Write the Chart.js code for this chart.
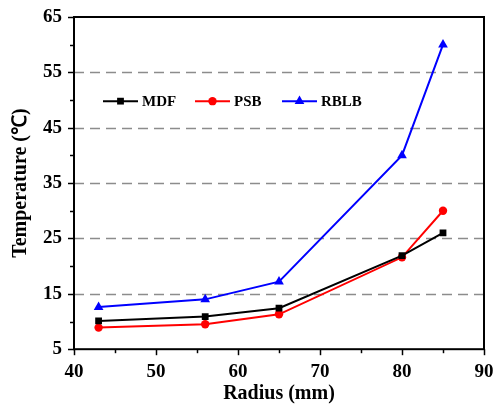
<!DOCTYPE html>
<html>
<head>
<meta charset="utf-8">
<script src="https://cdn.jsdelivr.net/npm/chart.js@4/dist/chart.umd.min.js"></script>
<style>
html,body{margin:0;padding:0;background:#fff;}
#wrap{width:493px;height:404px;position:relative;}
</style>
</head>
<body>
<div id="wrap"><canvas id="c" width="493" height="404"></canvas></div>
<script>
const radius = [43, 56, 65, 80, 85];
const mdf = [10.1, 10.9, 12.4, 21.9, 26.0];
const psb = [8.9, 9.5, 11.3, 21.6, 30.0];
const rblb = [12.6, 14.0, 17.2, 40.0, 60.0];
const seriesNames = ['MDF', 'PSB', 'RBLB'];
const xTicks = [40, 50, 60, 70, 80, 90];
const yTicks = [5, 15, 25, 35, 45, 55, 65];
const gridValues = [15, 25, 35, 45, 55];
const xTitle = 'Radius (mm)';
const yTitle = 'Temperature (\u2103)';

const FONT = "'Liberation Serif', 'Times New Roman', serif";
const colors = ['#000000', '#ff0000', '#0000ff'];
const styles = ['rect', 'circle', 'triangle'];
const radii = [4.8, 4.2, 5.6];

function pts(vals){ return radius.map((r,i)=>({x:r, y:vals[i]})); }

function drawMarker(ctx, style, r, x, y){
  ctx.beginPath();
  if(style==='rect'){
    const s = Math.SQRT1_2*r;
    ctx.rect(x-s, y-s, 2*s, 2*s);
  } else if(style==='circle'){
    ctx.arc(x, y, r, 0, Math.PI*2);
  } else {
    ctx.moveTo(x, y - r);
    ctx.lineTo(x + Math.sin(Math.PI*2/3)*r, y - Math.cos(Math.PI*2/3)*r);
    ctx.lineTo(x - Math.sin(Math.PI*2/3)*r, y - Math.cos(Math.PI*2/3)*r);
    ctx.closePath();
  }
  ctx.fill();
}

const framePlugin = {
  id: 'frame',
  beforeDatasetsDraw(chart){
    const {ctx, chartArea:a, scales:{x, y}} = chart;
    ctx.save();
    ctx.strokeStyle = '#8c8c8c';
    ctx.lineWidth = 1.5;
    ctx.setLineDash([10, 6]);
    gridValues.forEach(v=>{
      const py = Math.round(y.getPixelForValue(v)) + 0.5;
      ctx.beginPath(); ctx.moveTo(a.left, py); ctx.lineTo(a.right, py); ctx.stroke();
    });
    ctx.restore();
  },
  afterDatasetsDraw(chart){
    const {ctx, chartArea:a, scales:{x, y}} = chart;
    ctx.save();
    ctx.strokeStyle = '#000';
    ctx.lineWidth = 1.5;
    for(let v = 40; v <= 90; v += 5){
      const px = Math.round(x.getPixelForValue(v)) + 0.5;
      const len = (v % 10 === 0) ? 6 : 4;
      ctx.beginPath(); ctx.moveTo(px, a.bottom); ctx.lineTo(px, a.bottom + len); ctx.stroke();
    }
    for(let v = 5; v <= 65; v += 5){
      const py = Math.round(y.getPixelForValue(v)) + 0.5;
      const len = ((v - 5) % 10 === 0) ? 6 : 4;
      ctx.beginPath(); ctx.moveTo(a.left, py); ctx.lineTo(a.left - len, py); ctx.stroke();
    }
    ctx.lineWidth = 2;
    ctx.strokeRect(a.left, a.top, a.right - a.left, a.bottom - a.top);
    // legend
    const lx = [103, 195, 282];
    const ly = y.getPixelForValue(49.8);
    ctx.font = 'bold 15px ' + FONT;
    ctx.textBaseline = 'middle';
    ctx.textAlign = 'left';
    chart.data.datasets.forEach((ds, i)=>{
      ctx.strokeStyle = colors[i];
      ctx.fillStyle = colors[i];
      ctx.lineWidth = 2;
      ctx.beginPath(); ctx.moveTo(lx[i], ly); ctx.lineTo(lx[i] + 35, ly); ctx.stroke();
      drawMarker(ctx, styles[i], radii[i], lx[i] + 17.5, ly);
      ctx.fillStyle = '#000';
      ctx.fillText(ds.label, lx[i] + 39, ly + 1);
    });
    ctx.restore();
  }
};

const datasets = [mdf, psb, rblb].map((vals, i)=>({
  label: seriesNames[i],
  data: pts(vals),
  showLine: true,
  borderColor: colors[i],
  backgroundColor: colors[i],
  borderWidth: 2,
  pointStyle: styles[i],
  pointRadius: radii[i],
  pointBorderWidth: 0,
  pointHoverRadius: radii[i],
  tension: 0
}));

new Chart(document.getElementById('c'), {
  type: 'scatter',
  data: { datasets },
  options: {
    responsive: false,
    animation: false,
    devicePixelRatio: 1,
    layout: { padding: { left: 9, right: 9, top: 17, bottom: -2 } },
    plugins: { legend: { display: false }, tooltip: { enabled: false } },
    scales: {
      x: {
        type: 'linear', min: 40, max: 90,
        afterBuildTicks(s){ s.ticks = xTicks.map(v=>({value:v})); },
        afterFit(s){ s.paddingRight = 0; s.paddingLeft = 0; },
        grid: { display: false, drawTicks: false },
        border: { display: false },
        ticks: { color: '#000', font: { family: FONT, size: 19, weight: 'bold' }, padding: 11, maxRotation: 0 },
        title: { display: true, text: xTitle, color: '#000', font: { family: FONT, size: 20, weight: 'bold' }, padding: { top: -12, bottom: 0 } }
      },
      y: {
        type: 'linear', min: 5, max: 65,
        afterBuildTicks(s){ s.ticks = yTicks.map(v=>({value:v})); },
        afterFit(s){ s.paddingTop = 0; s.paddingBottom = 0; },
        grid: { display: false, drawTicks: false },
        border: { display: false },
        ticks: { color: '#000', font: { family: FONT, size: 19, weight: 'bold' }, padding: 12 },
        title: { display: true, text: yTitle, color: '#000', font: { family: FONT, size: 20, weight: 'bold' }, padding: { top: 0, bottom: -2 } }
      }
    }
  },
  plugins: [framePlugin]
});
</script>
</body>
</html>
